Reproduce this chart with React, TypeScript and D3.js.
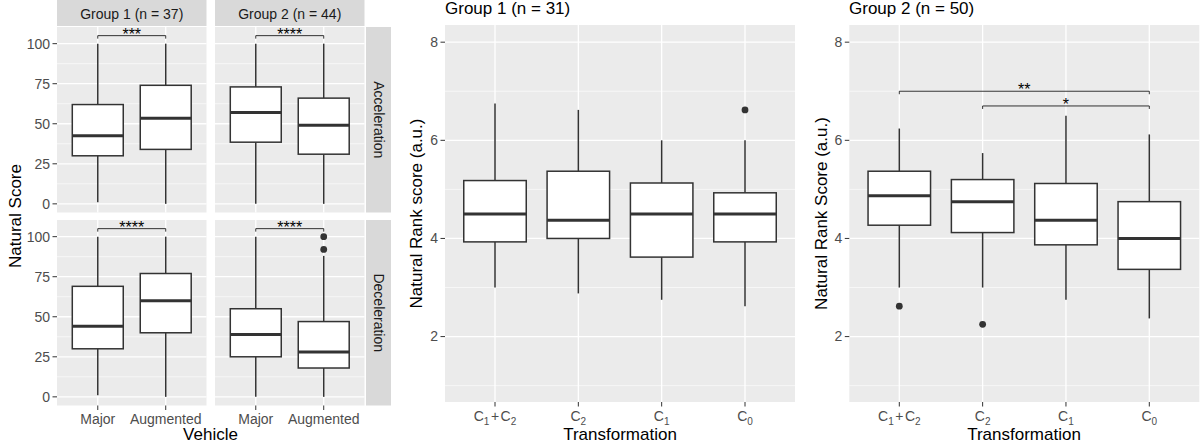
import { scaleLinear, scalePoint } from "d3";

const FONT = "'Liberation Sans', Arial, sans-serif";
const BOX = "#333333";

// left facet chart
const vehicles = ["Major", "Augmented"];
const facetCols = ["Group 1 (n = 37)", "Group 2 (n = 44)"];
const facetRows = ["Acceleration", "Deceleration"];
const scoreTicks = [0, 25, 50, 75, 100];
const scoreMinor = [12.5, 37.5, 62.5, 87.5];
// [lower whisker, Q1, median, Q3, upper whisker]
const accelGroup1 = [[1, 30, 42.5, 62, 100], [0, 34, 53.5, 74, 100]];
const accelGroup2 = [[0, 38.5, 57, 73, 100], [0, 31, 49, 66, 100]];
const decelGroup1 = [[1, 30, 44, 69, 100], [0, 40, 60, 77, 100]];
const decelGroup2 = [[0, 25, 39, 55, 100], [0, 18, 28, 47, 88]];
const decelGroup2Outliers = [[], [100, 92]];
const vehicleStars = [["***", "****"], ["****", "****"]];

// rank charts
const transformations = ["C1+C2", "C2", "C1", "C0"];
const rankTicks = [2, 4, 6, 8];
const rankMinor = [1, 3, 5, 7];
const rankGroup1 = [
  [3.0, 3.93, 4.5, 5.18, 6.75],
  [2.88, 4.0, 4.37, 5.37, 6.62],
  [2.75, 3.62, 4.5, 5.13, 6.0],
  [2.62, 3.93, 4.5, 4.93, 6.0],
];
const rankGroup1Outliers = [[], [], [], [6.62]];
const rankGroup2 = [
  [3.0, 4.27, 4.87, 5.37, 6.24],
  [3.0, 4.12, 4.75, 5.2, 5.74],
  [2.75, 3.87, 4.37, 5.12, 6.5],
  [2.37, 3.37, 4.0, 4.75, 6.12],
];
const rankGroup2Outliers = [[2.62], [2.25], [], []];
const rankGroup2Sig = [
  { from: "C1+C2", to: "C0", y: 7.0, label: "**" },
  { from: "C2", to: "C0", y: 6.7, label: "*" },
];

type Sig = { from: string; to: string; y: number; label: string };

// "C1+C2" -> C with subscript digits
const SUB = 3.5;
const SubLabel = ({ label }: { label: string }) => {
  const parts = label.split("+");
  const out: JSX.Element[] = [];
  parts.forEach((p, i) => {
    if (i > 0) out.push(<tspan key={"p" + i} dy={-SUB} dx="1.5">+</tspan>);
    out.push(<tspan key={"c" + i} dx={i > 0 ? 1.5 : 0}>{p[0]}</tspan>);
    out.push(<tspan key={"s" + i} dy={SUB} fontSize="10">{p.slice(1)}</tspan>);
  });
  return <>{out}</>;
};

const Panel = ({
  left, top, width, height, cats, yDomain, yTicks, yMinor, stats, outliers = [],
  brackets = [], yAxis = true, xAxis = true, subLabels = false,
}: {
  left: number; top: number; width: number; height: number; cats: string[];
  yDomain: [number, number]; yTicks: number[]; yMinor: number[]; stats: number[][];
  outliers?: number[][]; brackets?: Sig[]; yAxis?: boolean; xAxis?: boolean; subLabels?: boolean;
}) => {
  const x = scalePoint<string>().domain(cats).range([left, left + width]).padding(0.6);
  const y = scaleLinear().domain(yDomain).range([top + height, top]);
  const bw = x.step() * 0.75;
  return (
    <g>
      <rect x={left} y={top} width={width} height={height} fill="#EBEBEB" />
      {yMinor.map((t) => (
        <line key={"m" + t} x1={left} x2={left + width} y1={y(t)} y2={y(t)} stroke="#fff" strokeWidth={0.6} />
      ))}
      {yTicks.map((t) => (
        <line key={"M" + t} x1={left} x2={left + width} y1={y(t)} y2={y(t)} stroke="#fff" strokeWidth={1.3} />
      ))}
      {cats.map((c) => (
        <line key={c} x1={x(c)} x2={x(c)} y1={top} y2={top + height} stroke="#fff" strokeWidth={1.3} />
      ))}
      {stats.map((s, i) => {
        const cx = x(cats[i])!;
        return (
          <g key={i} stroke={BOX}>
            <line x1={cx} x2={cx} y1={y(s[0])} y2={y(s[1])} strokeWidth={1.5} />
            <line x1={cx} x2={cx} y1={y(s[3])} y2={y(s[4])} strokeWidth={1.5} />
            <rect x={cx - bw / 2} y={y(s[3])} width={bw} height={y(s[1]) - y(s[3])} fill="#fff" strokeWidth={1.5} />
            <line x1={cx - bw / 2} x2={cx + bw / 2} y1={y(s[2])} y2={y(s[2])} strokeWidth={3} />
            {(outliers[i] || []).map((o, j) => (
              <circle key={j} cx={cx} cy={y(o)} r={3.4} fill={BOX} stroke="none" />
            ))}
          </g>
        );
      })}
      {brackets.map((b, i) => {
        const x1 = x(b.from)!;
        const x2 = x(b.to)!;
        const by = y(b.y);
        return (
          <g key={i}>
            <path d={`M${x1},${by + 3}V${by}H${x2}V${by + 3}`} fill="none" stroke="#000" strokeWidth={0.8} />
            <text x={(x1 + x2) / 2} y={by + 4} textAnchor="middle" fontSize={16} fill="#000">{b.label}</text>
          </g>
        );
      })}
      {yAxis &&
        yTicks.map((t) => (
          <g key={"yt" + t}>
            <line x1={left - 4.5} x2={left} y1={y(t)} y2={y(t)} stroke="#333" strokeWidth={1} />
            <text x={left - 7} y={y(t)} dy="0.35em" textAnchor="end" fontSize={14} fill="#4D4D4D">{t}</text>
          </g>
        ))}
      {xAxis &&
        cats.map((c) => (
          <g key={"xt" + c}>
            <line x1={x(c)} x2={x(c)} y1={top + height} y2={top + height + 4.5} stroke="#333" strokeWidth={1} />
            <text x={x(c)} y={top + height + (subLabels ? 19 : 18.5)} textAnchor="middle" fontSize={14} fill="#4D4D4D">
              {subLabels ? <SubLabel label={c} /> : c}
            </text>
          </g>
        ))}
    </g>
  );
};

const scoreDomain: [number, number] = [-5.4, 110.4];
const rankDomain: [number, number] = [0.667, 8.35];

export default function App() {
  const colLefts = [57, 215];
  const rowTops = [27, 220];
  const pw = 149.5;
  const ph = 185.5;
  const facetStats = [[accelGroup1, accelGroup2], [decelGroup1, decelGroup2]];
  const facetOutliers = [[[], []], [[], decelGroup2Outliers]];
  return (
    <svg width={1200} height={444} style={{ position: "absolute", left: 0, top: 0 }} fontFamily={FONT}>
      <rect width={1200} height={444} fill="#fff" />
      {/* facet chart */}
      {facetCols.map((g, c) => (
        <g key={g}>
          <rect x={colLefts[c]} y={0} width={pw} height={26} fill="#D9D9D9" />
          <text x={colLefts[c] + pw / 2} y={18.5} textAnchor="middle" fontSize={14} fill="#1A1A1A">{g}</text>
        </g>
      ))}
      {facetRows.map((r, ri) => (
        <g key={r}>
          <rect x={366} y={rowTops[ri]} width={25} height={ph} fill="#D9D9D9" />
          <text
            transform={`translate(373.5,${rowTops[ri] + ph / 2}) rotate(90)`}
            textAnchor="middle"
            fontSize={14}
            fill="#1A1A1A"
          >
            {r}
          </text>
          {facetCols.map((g, c) => (
            <Panel
              key={g}
              left={colLefts[c]}
              top={rowTops[ri]}
              width={pw}
              height={ph}
              cats={vehicles}
              yDomain={scoreDomain}
              yTicks={scoreTicks}
              yMinor={scoreMinor}
              stats={facetStats[ri][c]}
              outliers={facetOutliers[ri][c]}
              brackets={[{ from: vehicles[0], to: vehicles[1], y: 105, label: vehicleStars[ri][c] }]}
              yAxis={c === 0}
              xAxis={ri === 1}
            />
          ))}
        </g>
      ))}
      <text transform="translate(21,216) rotate(-90)" textAnchor="middle" fontSize={17} fill="#000">Natural Score</text>
      <text x={210.5} y={439.5} textAnchor="middle" fontSize={17} fill="#000">Vehicle</text>

      {/* group 1 ranks */}
      <text x={445} y={14} fontSize={17} fill="#000">Group 1 (n = 31)</text>
      <Panel
        left={445}
        top={25}
        width={350}
        height={377}
        cats={transformations}
        yDomain={rankDomain}
        yTicks={rankTicks}
        yMinor={rankMinor}
        stats={rankGroup1}
        outliers={rankGroup1Outliers}
        subLabels
      />
      <text transform="translate(422,213.5) rotate(-90)" textAnchor="middle" fontSize={17} fill="#000">Natural Rank score (a.u.)</text>
      <text x={620} y={439.5} textAnchor="middle" fontSize={17} fill="#000">Transformation</text>

      {/* group 2 ranks */}
      <text x={849} y={14} fontSize={17} fill="#000">Group 2 (n = 50)</text>
      <Panel
        left={849.3}
        top={25}
        width={350}
        height={377}
        cats={transformations}
        yDomain={rankDomain}
        yTicks={rankTicks}
        yMinor={rankMinor}
        stats={rankGroup2}
        outliers={rankGroup2Outliers}
        brackets={rankGroup2Sig}
        subLabels
      />
      <text transform="translate(827,213.5) rotate(-90)" textAnchor="middle" fontSize={17} fill="#000">Natural Rank Score (a.u.)</text>
      <text x={1024} y={439.5} textAnchor="middle" fontSize={17} fill="#000">Transformation</text>
    </svg>
  );
}
